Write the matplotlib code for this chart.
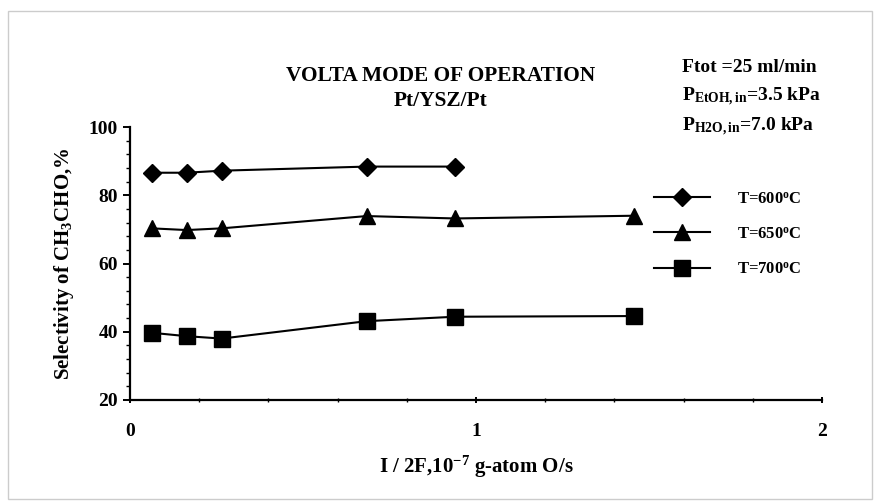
import matplotlib

matplotlib.use("Agg")
import matplotlib.pyplot as plt
from matplotlib.lines import Line2D
from matplotlib.patches import Rectangle
from matplotlib.ticker import MultipleLocator

plt.rcParams["font.family"] = ["Liberation Serif", "DejaVu Serif"]
plt.rcParams["font.weight"] = "bold"
plt.rcParams["mathtext.fontset"] = "custom"
plt.rcParams["mathtext.rm"] = "Liberation Serif:bold"
plt.rcParams["mathtext.it"] = "Liberation Serif:bold"
plt.rcParams["mathtext.bf"] = "Liberation Serif:bold"

# current (I/2F, 1e-7 g-atom O/s) and selectivity (%)
x_600 = [0.063, 0.164, 0.265, 0.684, 0.939]
s_600 = [86.6, 86.6, 87.2, 88.4, 88.4]
x_650 = [0.063, 0.164, 0.265, 0.684, 0.939, 1.457]
s_650 = [70.3, 69.8, 70.3, 73.9, 73.2, 74.0]
x_700 = [0.063, 0.164, 0.265, 0.684, 0.939, 1.457]
s_700 = [39.7, 38.7, 38.0, 43.1, 44.4, 44.6]
labels = ["T=600$^{\\rm o}$C", "T=650$^{\\rm o}$C", "T=700$^{\\rm o}$C"]

MARKERS = [("D", 9), ("^", 11.5), ("s", 11)]

fig = plt.figure(figsize=(8.8, 5.01), dpi=100)
fig.patches.append(Rectangle((0.009, 0.004), 0.982, 0.975, transform=fig.transFigure,
                             fill=False, edgecolor="#cccccc", linewidth=1.0))
ax = fig.add_axes([0.1477, 0.2016, 0.7863, 0.5449])

for xs, ys, (m, ms) in zip((x_600, x_650, x_700), (s_600, s_650, s_700), MARKERS):
    ax.plot(xs, ys, "-", color="black", lw=1.5, marker=m, ms=ms)

ax.set_xlim(0, 2)
ax.set_ylim(20, 100)
ax.xaxis.set_major_locator(MultipleLocator(1))
ax.xaxis.set_minor_locator(MultipleLocator(0.2))
ax.yaxis.set_major_locator(MultipleLocator(20))
ax.yaxis.set_minor_locator(MultipleLocator(4))
for s in ("top", "right"):
    ax.spines[s].set_visible(False)
for s in ("left", "bottom"):
    ax.spines[s].set_linewidth(1.6)
ax.tick_params(axis="both", which="major", labelsize=14, width=1.4, length=5, direction="out")
ax.tick_params(axis="x", which="major", pad=14)
ax.tick_params(axis="both", which="minor", width=1.0, length=3, direction="out")
ax.tick_params(axis="x", which="both", direction="inout")

ax.set_ylabel("Selectivity of CH$_3$CHO,%", fontsize=15, fontweight="bold", labelpad=9)
ax.set_xlabel("I / 2F,10$^{-7}$ g-atom O/s", fontsize=15, fontweight="bold", labelpad=10)

fig.text(0.501, 0.848, "VOLTA MODE OF OPERATION", ha="center", va="center", fontsize=15.4)
fig.text(0.501, 0.799, "Pt/YSZ/Pt", ha="center", va="center", fontsize=15.4)
fig.text(0.775, 0.866, "Ftot =25 ml/min", ha="left", va="center", fontsize=14)
fig.text(0.775, 0.806, "P$_{\\rm EtOH,in}$=3.5 kPa", ha="left", va="center", fontsize=14)
fig.text(0.775, 0.748, "P$_{\\rm H2O,in}$=7.0 kPa", ha="left", va="center", fontsize=14)

handles = [Line2D([], [], color="black", lw=1.5, marker=m, ms=ms) for m, ms in MARKERS]
ax.legend(handles, labels, loc="upper left", bbox_to_anchor=(0.735, 0.82), frameon=False,
          fontsize=12, handlelength=3.4, labelspacing=1.15, handletextpad=1.6)

fig.savefig("out.png", dpi=100)
